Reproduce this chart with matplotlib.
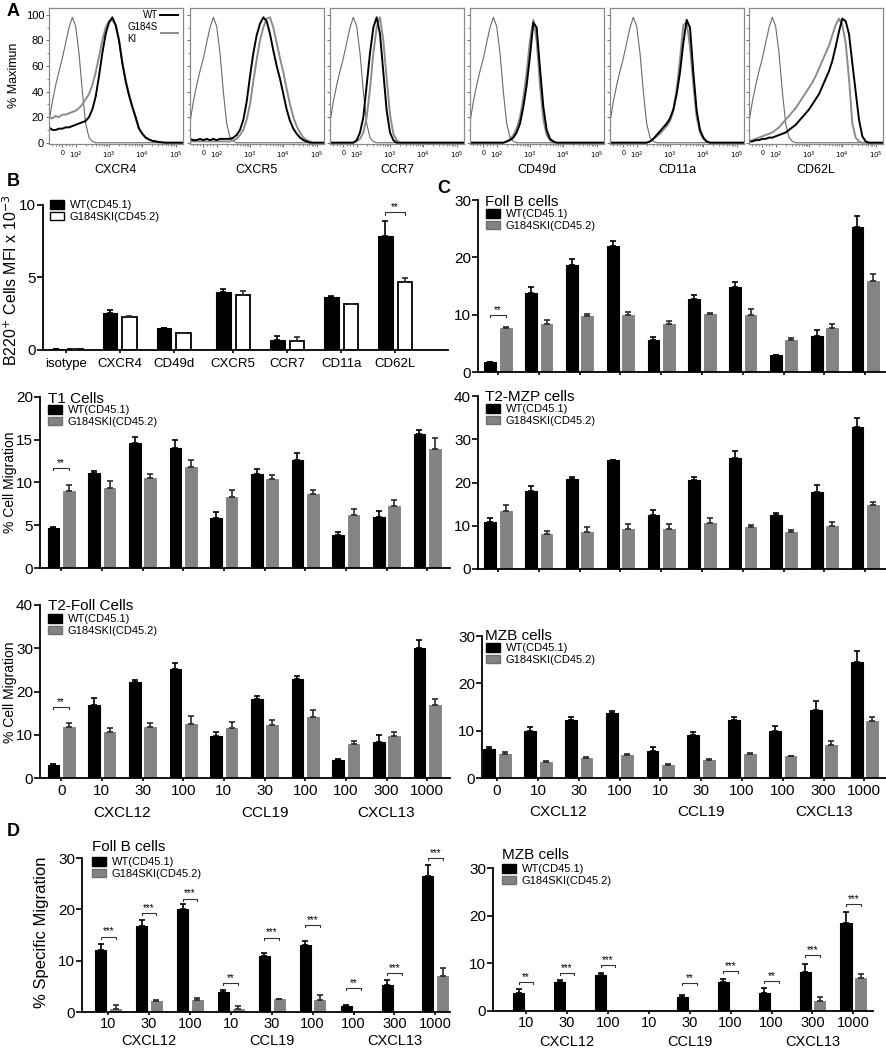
import numpy as np
import matplotlib
matplotlib.use("Agg")
import matplotlib.pyplot as plt
from matplotlib.patches import Patch
from matplotlib.lines import Line2D
import matplotlib.transforms as mtransforms

plt.rcParams['font.family'] = ['Liberation Sans', 'DejaVu Sans']

# ---------------- DATA ----------------
# Panel A: flow histograms (% of max) sampled every 0.1 decade of fluorescence
hist_dec = np.round(np.arange(1.2, 5.21, 0.1), 1)
iso = [16, 32, 45, 56, 66, 78, 90, 98, 91, 70,
       40, 15, 4, 1, 0, 0, 0, 0, 0, 0,
       0, 0, 0, 0, 0, 0, 0, 0, 0, 0,
       0, 0, 0, 0, 0, 0, 0, 0, 0, 0, 0]
cxcr4_wt = [12, 10, 10, 11, 11, 12, 12, 13, 14, 15,
            16, 17, 20, 26, 36, 52, 70, 85, 94, 98,
            92, 80, 62, 48, 37, 28, 20, 11, 7, 4,
            2.5, 1.5, 1, 0.5, 0.3, 0, 0, 0, 0, 0, 0]
cxcr4_ki = [20, 19, 21, 20, 22, 22, 23, 24, 25, 27,
            30, 34, 38, 45, 55, 67, 80, 90, 95, 96,
            92, 80, 63, 49, 38, 28, 19, 11, 7, 4,
            2.5, 1.5, 1, 0.5, 0, 0, 0, 0, 0, 0, 0]
cxcr5_wt = [3, 2, 2, 3, 2, 3, 2, 3, 2, 3,
            3, 3, 3, 4, 6, 10, 18, 32, 52, 70,
            84, 93, 98, 95, 85, 72, 60, 50, 38, 26,
            17, 11, 7, 4, 2, 1, 0, 0, 0, 0, 0]
cxcr5_ki = [1, 1, 1, 1, 1, 1, 1, 1, 1, 1,
            1, 1, 1, 2, 3, 6, 10, 18, 30, 48,
            65, 80, 90, 97, 98, 90, 78, 66, 55, 42,
            30, 20, 13, 8, 4, 2, 1, 0, 0, 0, 0]
ccr7_wt = [0, 0, 0, 0, 0, 0, 0, 0, 2, 8,
           20, 45, 70, 90, 98, 85, 55, 25, 8, 2,
           0, 0, 0, 0, 0, 0, 0, 0, 0, 0,
           0, 0, 0, 0, 0, 0, 0, 0, 0, 0, 0]
ccr7_ki = [0, 0, 0, 0, 0, 0, 0, 0, 1, 3,
           8, 20, 42, 70, 90, 98, 80, 50, 22, 7,
           2, 0, 0, 0, 0, 0, 0, 0, 0, 0,
           0, 0, 0, 0, 0, 0, 0, 0, 0, 0, 0]
cd49d_wt = [0, 0, 0, 0, 0, 0, 0, 0, 0, 0,
            0, 1, 2, 4, 8, 15, 28, 45, 68, 94,
            90, 58, 28, 10, 3, 1, 0, 0, 0, 0,
            0, 0, 0, 0, 0, 0, 0, 0, 0, 0, 0]
cd49d_ki = [0, 0, 0, 0, 0, 0, 0, 0, 0, 0,
            0, 1, 3, 6, 11, 20, 35, 55, 80, 96,
            80, 45, 18, 6, 2, 0, 0, 0, 0, 0,
            0, 0, 0, 0, 0, 0, 0, 0, 0, 0, 0]
cd11a_wt = [0, 0, 0, 0, 0, 0, 0, 0, 0, 0,
            0, 0, 1, 3, 6, 9, 12, 15, 19, 26,
            38, 55, 78, 96, 90, 55, 25, 10, 4, 1,
            0, 0, 0, 0, 0, 0, 0, 0, 0, 0, 0]
cd11a_ki = [0, 0, 0, 0, 0, 0, 0, 0, 0, 0,
            0, 0, 1, 3, 5, 7, 10, 13, 17, 25,
            42, 65, 92, 94, 75, 45, 20, 8, 3, 1,
            0, 0, 0, 0, 0, 0, 0, 0, 0, 0, 0]
cd62l_wt = [1, 1, 2, 2, 3, 3, 4, 4, 5, 6,
            7, 8, 10, 12, 14, 17, 20, 23, 26, 30,
            34, 38, 44, 50, 56, 64, 75, 87, 97, 95,
            85, 62, 40, 18, 5, 1, 0, 0, 0, 0, 0]
cd62l_ki = [1, 2, 3, 4, 5, 6, 7, 8, 10, 12,
            15, 18, 21, 24, 27, 31, 35, 39, 43, 47,
            52, 58, 64, 70, 76, 84, 92, 97, 92, 78,
            50, 15, 4, 1, 0, 0, 0, 0, 0, 0, 0]
hist_names = ['CXCR4', 'CXCR5', 'CCR7', 'CD49d', 'CD11a', 'CD62L']

# Panel B: MFI
b_markers = ['isotype', 'CXCR4', 'CD49d', 'CXCR5', 'CCR7', 'CD11a', 'CD62L']
b_wt = [0.05, 2.57, 1.49, 4.02, 0.69, 3.68, 7.86]
b_wt_err = [0.02, 0.19, 0.03, 0.16, 0.30, 0.03, 1.06]
b_ki = [0.05, 2.30, 1.15, 3.77, 0.64, 3.15, 4.67]
b_ki_err = [0.02, 0.07, 0.03, 0.30, 0.23, 0.03, 0.30]

# Migration panels (10 conditions)
conc_labels = ['0', '10', '30', '100', '10', '30', '100', '100', '300', '1000']
t1_wt = [4.7, 11.1, 14.6, 14.0, 5.8, 11.0, 12.6, 3.9, 6.0, 15.7]
t1_wt_err = [0.15, 0.3, 0.7, 0.95, 0.7, 0.55, 0.85, 0.35, 0.7, 0.4]
t1_ki = [9.0, 9.3, 10.5, 11.8, 8.3, 10.4, 8.6, 6.2, 7.3, 13.9]
t1_ki_err = [0.7, 0.9, 0.45, 0.8, 0.8, 0.5, 0.5, 0.75, 0.7, 1.3]

t2f_wt = [3.1, 16.8, 22.1, 25.3, 9.7, 18.3, 22.8, 4.2, 8.3, 30.1]
t2f_wt_err = [0.1, 1.6, 0.6, 1.2, 0.9, 0.7, 0.85, 0.3, 1.6, 1.75]
t2f_ki = [11.8, 10.7, 11.7, 12.6, 11.6, 12.2, 14.1, 7.8, 9.8, 16.8]
t2f_ki_err = [1.0, 0.8, 1.1, 1.8, 1.4, 1.1, 1.7, 0.75, 0.9, 1.4]

fob_wt = [1.7, 13.8, 18.6, 21.9, 5.6, 12.7, 14.8, 2.9, 6.2, 25.3]
fob_wt_err = [0.05, 1.1, 1.05, 1.0, 0.45, 0.7, 0.85, 0.15, 1.1, 1.95]
fob_ki = [7.7, 8.3, 9.8, 10.0, 8.4, 10.2, 10.0, 5.6, 7.7, 15.8]
fob_ki_err = [0.2, 0.7, 0.35, 0.5, 0.5, 0.15, 0.95, 0.25, 0.65, 1.3]

mzp_wt = [10.9, 18.1, 20.8, 25.1, 12.6, 20.5, 25.6, 12.4, 17.8, 32.9]
mzp_wt_err = [0.8, 1.2, 0.4, 0.2, 1.0, 0.7, 1.7, 0.6, 1.6, 2.0]
mzp_ki = [13.3, 8.0, 8.5, 9.2, 9.3, 10.6, 9.8, 8.5, 9.9, 14.8]
mzp_ki_err = [1.4, 0.8, 1.1, 1.2, 1.2, 1.3, 0.3, 0.6, 1.0, 0.7]

mzb_wt = [6.1, 9.9, 12.2, 13.8, 5.8, 9.1, 12.2, 9.9, 14.3, 24.6]
mzb_wt_err = [0.55, 0.9, 0.6, 0.43, 0.85, 0.57, 0.7, 1.1, 1.9, 2.3]
mzb_ki = [5.0, 3.4, 4.3, 4.9, 2.7, 3.9, 5.0, 4.6, 7.0, 12.0]
mzb_ki_err = [0.5, 0.14, 0.11, 0.2, 0.2, 0.13, 0.2, 0.1, 0.8, 0.8]

# Panel D: specific migration (9 conditions)
d_labels = ['10', '30', '100', '10', '30', '100', '100', '300', '1000']
dfob_wt = [12.0, 16.8, 20.1, 3.9, 10.9, 13.0, 1.1, 5.2, 26.5]
dfob_wt_err = [1.15, 1.05, 0.97, 0.47, 0.65, 0.85, 0.2, 1.1, 2.2]
dfob_ki = [0.65, 2.2, 2.3, 0.65, 2.5, 2.3, 0, 0, 7.1]
dfob_ki_err = [0.65, 0.2, 0.45, 0.5, 0.12, 0.98, 0, 0, 1.4]
dfob_sig = ['***', '***', '***', '**', '***', '***', '**', '***', '***']
dfob_sig_y = [14.7, 19.2, 22.1, 5.7, 14.5, 16.9, 4.6, 7.6, 30.0]

dmzb_wt = [3.8, 6.0, 7.6, 0, 3.0, 6.1, 3.8, 8.1, 18.5]
dmzb_wt_err = [0.9, 0.5, 0.45, 0, 0.35, 0.65, 1.05, 1.8, 2.25]
dmzb_ki = [0, 0, 0, 0, 0, 0, 0, 2.0, 7.0]
dmzb_ki_err = [0, 0, 0, 0, 0, 0, 0, 0.85, 0.85]
dmzb_sig = ['**', '***', '***', '', '**', '***', '**', '***', '***']
dmzb_sig_y = [6.1, 7.9, 9.7, 0, 5.8, 8.3, 6.2, 11.8, 22.5]

wt_label = 'WT(CD45.1)'
ki_label = 'G184SKI(CD45.2)'

# ---------------- FIGURE ----------------
W, H = 887, 1050
fig = plt.figure(figsize=(W / 100, H / 100), dpi=100)


def fx(px):
    return px / W


def fy(py):
    return 1 - py / H


def add_ax(l, t, r, b):
    return fig.add_axes([l / W, 1 - b / H, (r - l) / W, (b - t) / H])


GRAY = '#838383'
GRAY_EDGE = '#6f6f6f'

# ---- Panel A ----
hist_data = [(cxcr4_wt, cxcr4_ki), (cxcr5_wt, cxcr5_ki), (ccr7_wt, ccr7_ki),
             (cd49d_wt, cd49d_ki), (cd11a_wt, cd11a_ki), (cd62l_wt, cd62l_ki)]
a_lefts = [49, 190, 330, 470, 610, 749]
minor_x = [1.3, 1.4, 1.5, 1.7, 1.8, 1.9] + [d + np.log10(k) for d in (2, 3, 4) for k in range(2, 10)]
for i, (name, (wt, ki)) in enumerate(zip(hist_names, hist_data)):
    ax = add_ax(a_lefts[i], 8, a_lefts[i] + 134, 144)
    ax.plot(hist_dec, iso, color='#6a6a6a', lw=0.8)
    ax.plot(hist_dec, ki, color='#8c8c8c', lw=1.4)
    ax.plot(hist_dec, wt, color='black', lw=1.4)
    ax.set_xlim(1.2, 5.22)
    ax.set_ylim(-1, 105.3)
    for s in ax.spines.values():
        s.set_color('#8a8a8a')
        s.set_linewidth(0.9)
    ax.set_xticks([1.6, 2, 3, 4, 5])
    ax.set_xticklabels(['0', '$10^2$', '$10^3$', '$10^4$', '$10^5$'], fontsize=5)
    ax.set_xticks(minor_x, minor=True)
    ax.set_yticks([0, 20, 40, 60, 80, 100])
    ax.set_yticks([10, 30, 50, 70, 90], minor=True)
    ax.tick_params(which='major', length=2.5, width=0.6, color='#555555', pad=1.5)
    ax.tick_params(which='minor', length=1.5, width=0.5, color='#555555')
    if i == 0:
        ax.tick_params(axis='y', labelsize=8, pad=1)
        handles = [Line2D([], [], color='black', lw=1.4), Line2D([], [], color='#8c8c8c', lw=1.4)]
        ax.legend(handles, ['WT', 'G184S\nKI'], loc='upper right', markerfirst=False,
                  bbox_to_anchor=(fx(178), fy(10)), bbox_transform=fig.transFigure,
                  frameon=False, fontsize=7, handlelength=1.8, handletextpad=0.3,
                  labelspacing=0.2, borderpad=0, borderaxespad=0)
    else:
        ax.set_yticklabels([])
    ax.set_xlabel(name, fontsize=9, labelpad=2)
fig.text(fx(14), fy(75), '% Maximun', rotation=90, ha='center', va='center', fontsize=9)


# ---- helpers for bar panels ----
def bar_panel(box, pos, wt, wt_err, ki, ki_err, ylim, yticks, xlim, width, off,
              ki_face=GRAY, ki_edge=GRAY_EDGE, ki_lw=0.5, ytick_size=11):
    ax = add_ax(*box)
    wt = np.asarray(wt, float)
    ki = np.asarray(ki, float)
    wt_err = np.asarray(wt_err, float)
    ki_err = np.asarray(ki_err, float)
    ax.bar(pos - off, wt, width, color='black', edgecolor='black', linewidth=0.8, zorder=2)
    ax.bar(pos + off, ki, width, color=ki_face, edgecolor=ki_edge, linewidth=ki_lw, zorder=2)
    m = wt > 0
    ax.errorbar((pos - off)[m], wt[m], yerr=[np.zeros(m.sum()), wt_err[m]], fmt='none',
                ecolor='black', elinewidth=1.2, capsize=2.5, capthick=1.2, zorder=3)
    m = ki > 0
    ax.errorbar((pos + off)[m], ki[m], yerr=[np.zeros(m.sum()), ki_err[m]], fmt='none',
                ecolor='#2a2a2a', elinewidth=1.2, capsize=2.5, capthick=1.2, zorder=3)
    ax.set_xlim(*xlim)
    ax.set_ylim(*ylim)
    ax.set_yticks(yticks)
    ax.set_xticks(pos)
    ax.set_xticklabels([])
    for s in ('top', 'right'):
        ax.spines[s].set_visible(False)
    for s in ('left', 'bottom'):
        ax.spines[s].set_linewidth(1.3)
    ax.tick_params(axis='y', direction='out', length=4, width=1.2, labelsize=ytick_size, pad=1)
    ax.tick_params(axis='x', direction='out', length=2.5, width=1.2, labelsize=11, pad=1.5)
    return ax


def bracket(ax, x1, x2, y, text, dy, fs=7):
    ax.plot([x1, x1, x2, x2], [y - dy, y, y, y - dy], color='#333333', lw=0.8, clip_on=False)
    ax.text((x1 + x2) / 2, y, text, ha='center', va='bottom', fontsize=fs, clip_on=False)


def title_legend(ax, title, txy, lxy, ki_face=GRAY, ki_edge=GRAY_EDGE):
    if title:
        fig.text(fx(txy[0]), fy(txy[1]), title, fontsize=11, ha='left', va='center')
    handles = [Patch(facecolor='black', edgecolor='black'),
               Patch(facecolor=ki_face, edgecolor=ki_edge)]
    ax.legend(handles, [wt_label, ki_label], loc='upper left',
              bbox_to_anchor=(fx(lxy[0]), fy(lxy[1])), bbox_transform=fig.transFigure,
              frameon=False, fontsize=8, handlelength=1.3, handleheight=0.8,
              handletextpad=0.5, labelspacing=0.15, borderpad=0, borderaxespad=0)


def group_labels(ax, xs, names, py, fs=11):
    tr = mtransforms.blended_transform_factory(ax.transData, fig.transFigure)
    for x, n in zip(xs, names):
        ax.text(x, fy(py), n, transform=tr, ha='center', va='center', fontsize=fs)


# ---- Panel B ----
b_pos = np.arange(7) + 0.1 * (np.arange(7) >= 3)
axB = bar_panel((43, 205, 448, 350), b_pos, b_wt, b_wt_err, b_ki, b_ki_err,
                (0, 10), [0, 5, 10], (-0.42, 7.08), 0.27, 0.18,
                ki_face='white', ki_edge='black', ki_lw=1.3, ytick_size=11)
axB.set_xticklabels(b_markers, fontsize=9.5)
axB.tick_params(axis='x', pad=3)
title_legend(axB, None, None, (50, 200), ki_face='white', ki_edge='black')
bracket(axB, b_pos[6] - 0.18, b_pos[6] + 0.18, 9.5, '**', 0.2)
fig.text(fx(11), fy(280), 'B220$^{+}$ Cells MFI x 10$^{-3}$', rotation=90,
         ha='center', va='center', fontsize=11.5)

pos10 = np.arange(10)
# ---- T1 ----
axT1 = bar_panel((40, 397, 450, 568), pos10, t1_wt, t1_wt_err, t1_ki, t1_ki_err,
                 (0, 20), [0, 5, 10, 15, 20], (-0.52, 9.56), 0.29, 0.19)
title_legend(axT1, 'T1 Cells', (48, 399), (48, 405))
bracket(axT1, -0.19, 0.19, 11.7, '**', 0.25)
fig.text(fx(10), fy(482), '% Cell Migration', rotation=90, ha='center', va='center', fontsize=10)

# ---- T2-Foll ----
axT2 = bar_panel((40, 605, 450, 778), pos10, t2f_wt, t2f_wt_err, t2f_ki, t2f_ki_err,
                 (0, 40), [0, 10, 20, 30, 40], (-0.52, 9.56), 0.29, 0.19)
axT2.set_xticklabels(conc_labels, fontsize=11)
title_legend(axT2, 'T2-Foll Cells', (48, 606), (48, 614))
bracket(axT2, -0.19, 0.19, 16.4, '**', 0.5)
group_labels(axT2, [1.5, 5, 8], ['CXCL12', 'CCL19', 'CXCL13'], 813)
fig.text(fx(10), fy(692), '% Cell Migration', rotation=90, ha='center', va='center', fontsize=10)

# ---- C: Foll B ----
axC1 = bar_panel((478, 200, 886, 372), pos10, fob_wt, fob_wt_err, fob_ki, fob_ki_err,
                 (0, 30), [0, 10, 20, 30], (-0.49, 9.51), 0.29, 0.19)
title_legend(axC1, 'Foll B cells', (485, 202), (486, 209))
bracket(axC1, -0.19, 0.19, 10.0, '**', 0.4)

# ---- C: T2-MZP ----
axC2 = bar_panel((478, 396, 886, 569), pos10, mzp_wt, mzp_wt_err, mzp_ki, mzp_ki_err,
                 (0, 40), [0, 10, 20, 30, 40], (-0.49, 9.51), 0.29, 0.19)
title_legend(axC2, 'T2-MZP cells', (485, 397), (486, 404))

# ---- C: MZB ----
axC3 = bar_panel((482, 636, 886, 778), pos10, mzb_wt, mzb_wt_err, mzb_ki, mzb_ki_err,
                 (0, 30), [0, 10, 20, 30], (-0.37, 9.53), 0.29, 0.19)
axC3.set_xticklabels(conc_labels, fontsize=11)
title_legend(axC3, 'MZB cells', (485, 636), (486, 643))
group_labels(axC3, [1.5, 5, 8], ['CXCL12', 'CCL19', 'CXCL13'], 812)

# ---- D: Foll B ----
pos9 = np.arange(9)
axD1 = bar_panel((82, 858, 450, 1012), pos9, dfob_wt, dfob_wt_err, dfob_ki, dfob_ki_err,
                 (0, 30), [0, 10, 20, 30], (-0.64, 8.36), 0.27, 0.18)
axD1.set_xticklabels(d_labels, fontsize=10.5)
axD1.tick_params(axis='x', pad=1)
title_legend(axD1, 'Foll B cells', (92, 847), (92, 857))
for i, (s, y) in enumerate(zip(dfob_sig, dfob_sig_y)):
    if s:
        bracket(axD1, i - 0.18, i + 0.18, y, s, 0.4)
group_labels(axD1, [1, 4, 7], ['CXCL12', 'CCL19', 'CXCL13'], 1041, fs=10.5)
fig.text(fx(42), fy(932), '% Specific Migration', rotation=90, ha='center', va='center', fontsize=12)

# ---- D: MZB ----
axD2 = bar_panel((493, 868, 873, 1011), pos9, dmzb_wt, dmzb_wt_err, dmzb_ki, dmzb_ki_err,
                 (0, 30), [0, 10, 20, 30], (-0.81, 8.48), 0.27, 0.18)
axD2.set_xticklabels(d_labels, fontsize=10.5)
axD2.tick_params(axis='x', pad=1)
title_legend(axD2, 'MZB cells', (502, 855), (502, 864))
for i, (s, y) in enumerate(zip(dmzb_sig, dmzb_sig_y)):
    if s:
        bracket(axD2, i - 0.18, i + 0.18, y, s, 0.4)
group_labels(axD2, [1, 4, 7], ['CXCL12', 'CCL19', 'CXCL13'], 1042, fs=10.5)

# ---- panel letters ----
for letter, (x, y) in {'A': (7, 12), 'B': (7, 181), 'C': (437, 189), 'D': (7, 831)}.items():
    fig.text(fx(x), fy(y), letter, fontsize=13, fontweight='bold', ha='left', va='center')

fig.savefig('out.png', dpi=100)
